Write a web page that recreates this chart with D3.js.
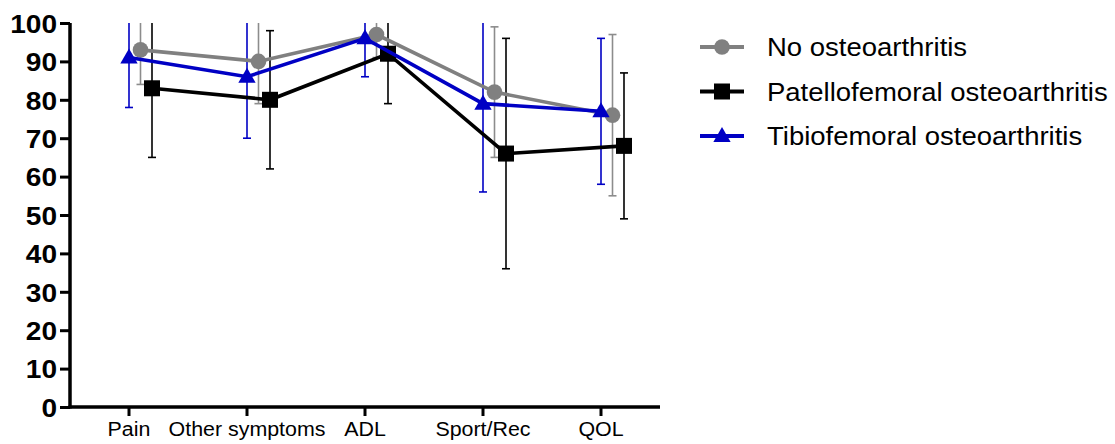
<!DOCTYPE html>
<html>
<head>
<meta charset="utf-8">
<script src="https://cdn.jsdelivr.net/npm/d3@7"></script>
<style>
  body { margin: 0; background: #fff; }
  svg { display: block; font-family: "Liberation Sans", Arial, sans-serif; }
</style>
</head>
<body>
<svg width="1115" height="444"></svg>
<script>
const categories = ["Pain", "Other symptoms", "ADL", "Sport/Rec", "QOL"]
const yTicks = [0, 10, 20, 30, 40, 50, 60, 70, 80, 90, 100]

const seriesNames = ["No osteoarthritis", "Patellofemoral osteoarthritis", "Tibiofemoral osteoarthritis"]

// means and error bar ends
const noOaMean = [93, 90, 97, 82, 76]
const noOaLow = [84, 79, 91, 65, 55]
const noOaHigh = [102, 101, 103, 99, 97]

const pfOaMean = [83, 80, 92, 66, 68]
const pfOaLow = [65, 62, 79, 36, 49]
const pfOaHigh = [101, 98, 105, 96, 87]

const tfOaMean = [91, 86, 96, 79, 77]
const tfOaLow = [78, 70, 86, 56, 58]
const tfOaHigh = [104, 102, 106, 102, 96]

const series = [
    { name: seriesNames[0], mean: noOaMean, low: noOaLow, high: noOaHigh, color: "#808080", bar: "#8c8c8c", shape: "circle", dx: 11.5 },
    { name: seriesNames[1], mean: pfOaMean, low: pfOaLow, high: pfOaHigh, color: "#000000", bar: "#000000", shape: "square", dx: 23 },
    { name: seriesNames[2], mean: tfOaMean, low: tfOaLow, high: tfOaHigh, color: "#0000c4", bar: "#0000c4", shape: "triangle", dx: 0 }
]
// draw order: grey, black, blue on top
const drawOrder = [0, 1, 2]

// the source text is a bit wider than Arial
const stretch = 1.08

const svg = d3.select("svg")

const x = d3.scaleBand().domain(categories).range([70, 660])
const y = d3.scaleLinear().domain([0, 100]).range([407, 23])
const cx = c => x(c) + x.bandwidth() / 2

svg.append("defs").append("clipPath").attr("id", "plot")
    .append("rect").attr("x", 70).attr("y", y(100)).attr("width", 1000).attr("height", y(0) - y(100))

function marker(g, shape, color, px, py) {
    if (shape === "circle") {
        g.append("circle").attr("cx", px).attr("cy", py).attr("r", 7.8).attr("fill", color)
    } else if (shape === "square") {
        g.append("rect").attr("x", px - 8).attr("y", py - 8).attr("width", 16).attr("height", 16).attr("fill", color)
    } else {
        g.append("path").attr("d", d3.symbol().type(d3.symbolTriangle).size(130)())
            .attr("transform", "translate(" + px + "," + (py + 1) + ")").attr("fill", color)
    }
}

// error bars
const bars = svg.append("g").attr("clip-path", "url(#plot)")
drawOrder.forEach(i => {
    const s = series[i]
    categories.forEach((c, j) => {
        const px = cx(c) + s.dx
        bars.append("line")
            .attr("x1", px).attr("x2", px)
            .attr("y1", y(s.low[j])).attr("y2", y(s.high[j]))
            .attr("stroke", s.bar).attr("stroke-width", 1.6)
        ;[s.low[j], s.high[j]].forEach(v => {
            bars.append("line")
                .attr("x1", px - 4).attr("x2", px + 4)
                .attr("y1", y(v)).attr("y2", y(v))
                .attr("stroke", s.bar).attr("stroke-width", 1.6)
        })
    })
})

// lines + markers
const line = d3.line().x(d => d[0]).y(d => d[1])
drawOrder.forEach(i => {
    const s = series[i]
    const pts = categories.map((c, j) => [cx(c) + s.dx, y(s.mean[j])])
    const g = svg.append("g")
    g.append("path").attr("d", line(pts))
        .attr("fill", "none").attr("stroke", s.color).attr("stroke-width", 3.6)
    pts.forEach(p => marker(g, s.shape, s.color, p[0], p[1]))
})

// y axis
const yAxis = svg.append("g").attr("transform", "translate(70,0)")
    .call(d3.axisLeft(y).tickValues(yTicks).tickSize(10).tickPadding(3))
yAxis.select(".domain").attr("stroke-width", 3.5).attr("d", "M0," + y(100) + "V" + (y(0) + 1.5))
yAxis.selectAll(".tick line").attr("stroke-width", 3)
yAxis.selectAll(".tick text").attr("font-size", 26).attr("font-weight", "bold")
    .attr("font-family", "'Liberation Sans', Arial, sans-serif").attr("fill", "#000")
    .attr("dy", "0.36em")
    .attr("x", -13 / stretch)
    .attr("transform", "scale(" + stretch + ",1)")

// x axis
const xAxis = svg.append("g").attr("transform", "translate(0," + y(0) + ")")
    .call(d3.axisBottom(x).tickSize(9).tickPadding(6))
xAxis.select(".domain").attr("stroke-width", 3.5).attr("d", "M68.5,0H660")
xAxis.selectAll(".tick line").attr("stroke-width", 3)
xAxis.selectAll(".tick text").attr("font-size", 20)
    .attr("font-family", "'Liberation Sans', Arial, sans-serif").attr("fill", "#000")
    .attr("transform", "scale(1.07,1)")

// legend
const legend = svg.append("g")
series.forEach((s, i) => {
    const ly = 47 + i * 44.5
    const g = legend.append("g")
    g.append("line").attr("x1", 700).attr("x2", 744).attr("y1", ly).attr("y2", ly)
        .attr("stroke", s.color).attr("stroke-width", 4)
    marker(g, s.shape, s.color, 722, ly)
    g.append("text").attr("transform", "translate(767," + ly + ") scale(1.1,1)")
        .attr("dy", "0.36em")
        .attr("font-size", 25).attr("fill", "#000").text(s.name)
})
</script>
</body>
</html>
